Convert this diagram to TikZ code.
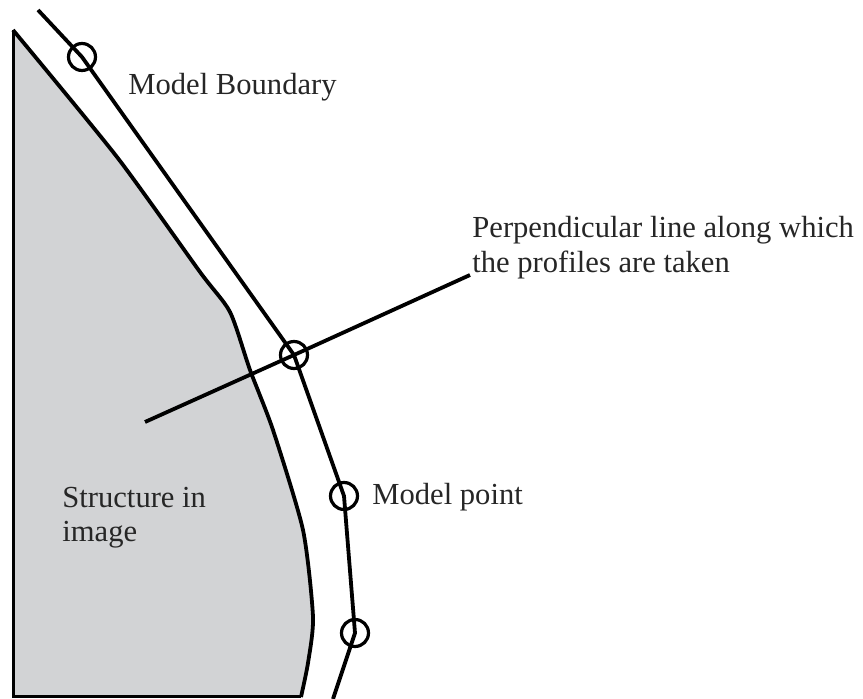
\documentclass[tikz,border=0pt]{standalone}
\usepackage{fontspec}
\setmainfont{Liberation Serif}
\definecolor{structgray}{RGB}{210,211,213}
\begin{document}
\begin{tikzpicture}[
  x=0.5pt, y=-0.5pt,
  edge/.style={line width=1.9pt, line join=round},
  mpt/.style={circle, draw, line width=1.6pt, minimum size=13.5pt, inner sep=0pt},
  lbl/.style={anchor=base west, inner sep=0pt, align=left, text=black!85,
              font=\fontsize{15.3}{17.5}\selectfont}
]
  \useasboundingbox (0,0) rectangle (863,699);

  % Structure
  \fill[structgray] (13,30) -- plot[smooth, tension=0.4] coordinates {(13,30) (117,157) (200,272)
      (230,312) (250,370) (273,430) (303,530) (313,617) (308,663) (301,697)}
      -- (13,697) -- cycle;
  \draw[edge] plot[smooth, tension=0.4] coordinates {(13,30) (117,157) (200,272)
      (230,312) (250,370) (273,430) (303,530) (313,617) (308,663) (301,697)};
  \draw[line width=1.5pt] (301,697) -- (13,697) -- (13,30);

  % Model points
  \foreach \i/\x/\y in {1/82/57, 2/294/355, 3/344/496, 4/355/633} {
    \node[mpt] (p\i) at (\x,\y) {};
  }
  \coordinate (top) at (38,10);
  \coordinate (bot) at (333,699);
  \draw[edge] (top) -- (p1.center) -- (p2.center) -- (p3.center)
    -- (p4.center) -- (bot);

  % Perpendicular line
  \coordinate (pa) at (145,422);
  \coordinate (pb) at (470,275);
  \draw[edge] (pa) -- (p2.center) -- (pb);

  % Labels
  \node[lbl] (lblB) at (128,95) {Model Boundary};
  \node[lbl] (lblP) at (472,273) {Perpendicular line along which\\the profiles are taken};
  \node[lbl] (lblM) at (372,505) {Model point};
  \node[lbl, font=\fontsize{15.3}{17}\selectfont] (lblS) at (62,542) {Structure in\\image};
\end{tikzpicture}
\end{document}
